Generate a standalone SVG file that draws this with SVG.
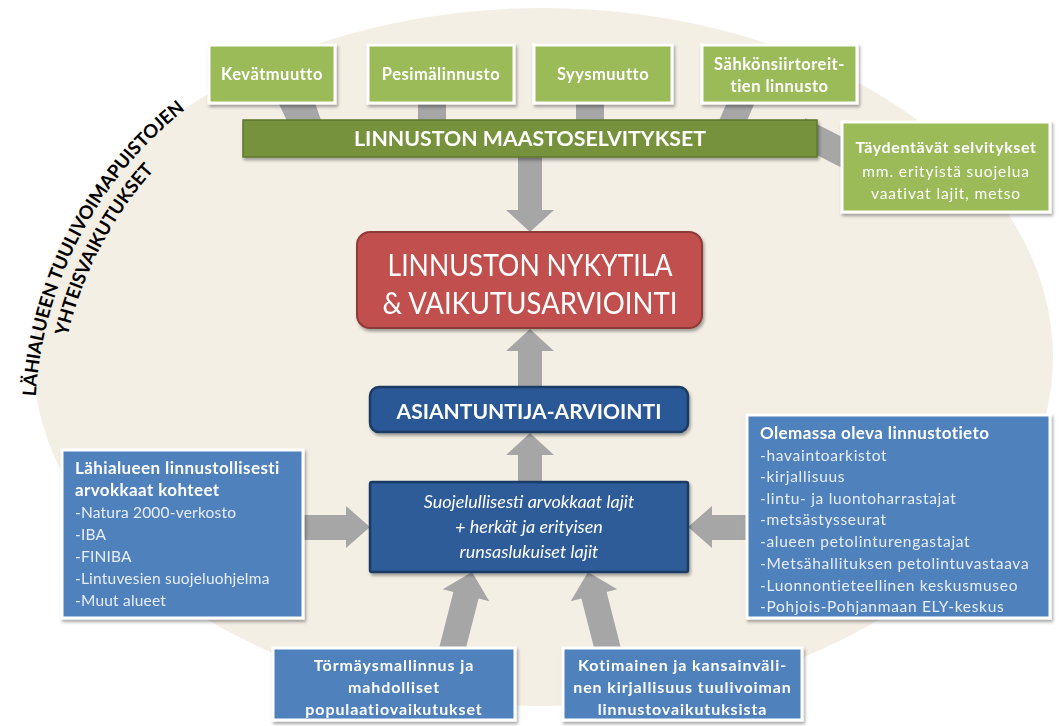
<svg xmlns="http://www.w3.org/2000/svg" width="1059" height="726" viewBox="0 0 1059 726">
<defs>
<filter id="sh" x="-10%" y="-10%" width="130%" height="140%">
<feDropShadow dx="1.5" dy="2.5" stdDeviation="1.5" flood-color="#000" flood-opacity="0.35"/>
</filter>
<path id="arc1" d="M 36 447.6 A 396 396 0 0 1 239 73.7"/>
<path id="arc2" d="M 58.9 446 A 373 373 0 0 1 250.2 93.8"/>
</defs>
<style>
text{font-family:Lato,"Open Sans","Liberation Sans",sans-serif;fill:#fff}
.green{fill:#9bbb59;stroke:#fff;stroke-width:3}
.lblue{fill:#4f81bd;stroke:#fff;stroke-width:3}
.conn{fill:#a6a6a6}
.tb{font-size:16.5px;font-weight:700;text-anchor:middle;letter-spacing:0.5px}
.bb{font-size:16px;font-weight:700;text-anchor:middle;letter-spacing:0.9px}
.hd{font-size:17px;font-weight:700;letter-spacing:0.4px}
.it{font-size:15.5px;fill:#e8eef7;letter-spacing:0.2px}
.it2{font-size:15.5px;fill:#e8eef7;letter-spacing:0.7px}
.curve{font-size:18.5px;font-weight:700;fill:#000}
</style>
<rect width="1059" height="726" fill="#fff"/>
<ellipse cx="543" cy="357" rx="510" ry="349" fill="#f3efe5"/>
<g id="title">
<text class="curve"><textPath href="#arc1" startOffset="48.5%" text-anchor="middle">LÄHIALUEEN TUULIVOIMAPUISTOJEN</textPath></text>
<text class="curve"><textPath href="#arc2" startOffset="48.5%" text-anchor="middle">YHTEISVAIKUTUKSET</textPath></text>
</g>
<g id="connectors">
<polygon class="conn" points="277,100 314,100 322,123 288,123"/>
<rect class="conn" x="418" y="100" width="28" height="24"/>
<rect class="conn" x="576" y="100" width="28" height="24"/>
<polygon class="conn" points="728,100 756,100 746,123 718,123"/>
<polygon class="conn" points="805,118 850,141 850,172 805,149"/>
<polygon class="conn" points="518,150 542,150 542,210 554,210 530,232 506,210 518,210"/>
<polygon class="conn" points="518,392 542,392 542,351 554,351 530,329 506,351 518,351"/>
<polygon class="conn" points="518,486 542,486 542,455 554,455 530,433 506,455 518,455"/>
<polygon class="conn" points="298,515 346,515 346,506 370,527 346,548 346,540 298,540"/>
<polygon class="conn" points="752,515 712,515 712,506 688,527 712,548 712,540 752,540"/>
<polygon class="conn" points="439.4,646.8 453.4,592 442.8,589.3 472,572 489.3,601.2 478.6,598.5 464.6,653.2"/>
<polygon class="conn" points="595.4,653.2 581.4,598.5 570.7,601.2 588,572 617.2,589.3 606.6,592 620.6,646.8"/>
</g>
<g id="kevatmuutto" filter="url(#sh)">
<rect class="green" x="209" y="45" width="126" height="58"/>
<text class="tb" x="272" y="80">Kevätmuutto</text>
</g>
<g id="pesimalinnusto" filter="url(#sh)">
<rect class="green" x="368" y="45" width="146" height="58"/>
<text class="tb" x="441" y="80">Pesimälinnusto</text>
</g>
<g id="syysmuutto" filter="url(#sh)">
<rect class="green" x="534" y="45" width="138" height="58"/>
<text class="tb" x="603" y="80">Syysmuutto</text>
</g>
<g id="sahkonsiirto" filter="url(#sh)">
<rect class="green" x="702" y="45" width="155" height="58"/>
<text class="tb" x="779.5" y="70">Sähkönsiirtoreit-</text>
<text class="tb" x="779.5" y="92">tien linnusto</text>
</g>
<g id="maastoselvitykset" filter="url(#sh)">
<rect x="243" y="120" width="574" height="37" fill="#76923c" stroke="#5f772f" stroke-width="1.5"/>
<text x="530" y="145.5" font-size="20.5" font-weight="700" text-anchor="middle" textLength="352" lengthAdjust="spacingAndGlyphs">LINNUSTON MAASTOSELVITYKSET</text>
</g>
<g id="taydentavat" filter="url(#sh)">
<rect class="green" x="842" y="122" width="208" height="90"/>
<text x="946" y="153" font-size="16" font-weight="700" text-anchor="middle" letter-spacing="0.6">Täydentävät selvitykset</text>
<text x="946" y="177" font-size="15.5" text-anchor="middle" fill="#eef4e3" letter-spacing="0.9">mm. erityistä suojelua</text>
<text x="946" y="199" font-size="15.5" text-anchor="middle" fill="#eef4e3" letter-spacing="0.9">vaativat lajit, metso</text>
</g>
<g id="nykytila" filter="url(#sh)">
<rect x="357" y="232" width="345" height="96" rx="13" fill="#c0504d" stroke="#8e3b39" stroke-width="2"/>
<text x="530" y="276" font-size="31" text-anchor="middle" textLength="285" lengthAdjust="spacingAndGlyphs">LINNUSTON NYKYTILA</text>
<text x="530" y="313.5" font-size="31" text-anchor="middle" textLength="295" lengthAdjust="spacingAndGlyphs">&amp; VAIKUTUSARVIOINTI</text>
</g>
<g id="asiantuntija" filter="url(#sh)">
<rect x="370" y="387" width="318" height="45" rx="9" fill="#2b5896" stroke="#1d3b63" stroke-width="2.5"/>
<text x="529" y="419" font-size="21" font-weight="700" text-anchor="middle" textLength="265" lengthAdjust="spacingAndGlyphs">ASIANTUNTIJA-ARVIOINTI</text>
</g>
<g id="suojelullisesti" filter="url(#sh)">
<rect x="370" y="482" width="318" height="90" rx="2" fill="#2d5c98" stroke="#1d3b63" stroke-width="2.5"/>
<text x="529" y="507.5" font-size="18" font-style="italic" text-anchor="middle">Suojelullisesti arvokkaat lajit</text>
<text x="529" y="532.5" font-size="18" font-style="italic" text-anchor="middle">+ herkät ja erityisen</text>
<text x="529" y="557.5" font-size="18" font-style="italic" text-anchor="middle">runsaslukuiset lajit</text>
</g>
<g id="lahialueen" filter="url(#sh)">
<rect class="lblue" x="62" y="450" width="241" height="168"/>
<text class="hd" x="75" y="474">Lähialueen linnustollisesti</text>
<text class="hd" x="75" y="496">arvokkaat kohteet</text>
<text class="it" x="75" y="517.5">-Natura 2000-verkosto</text>
<text class="it" x="75" y="539.5">-IBA</text>
<text class="it" x="75" y="561.5">-FINIBA</text>
<text class="it" x="75" y="583.5">-Lintuvesien suojeluohjelma</text>
<text class="it" x="75" y="605.5">-Muut alueet</text>
</g>
<g id="olemassa" filter="url(#sh)">
<rect class="lblue" x="747" y="415" width="303" height="203"/>
<text class="hd" x="760" y="439">Olemassa oleva linnustotieto</text>
<text class="it2" x="760" y="460.5">-havaintoarkistot</text>
<text class="it2" x="760" y="482">-kirjallisuus</text>
<text class="it2" x="760" y="503.5">-lintu- ja luontoharrastajat</text>
<text class="it2" x="760" y="525">-metsästysseurat</text>
<text class="it2" x="760" y="547">-alueen petolinturengastajat</text>
<text class="it2" x="760" y="568.5">-Metsähallituksen petolintuvastaava</text>
<text class="it2" x="760" y="590.5">-Luonnontieteellinen keskusmuseo</text>
<text class="it2" x="760" y="612">-Pohjois-Pohjanmaan ELY-keskus</text>
</g>
<g id="tormays" filter="url(#sh)">
<rect class="lblue" x="273" y="648" width="242" height="72"/>
<text class="bb" x="394" y="671">Törmäysmallinnus ja</text>
<text class="bb" x="394" y="693">mahdolliset</text>
<text class="bb" x="394" y="715">populaatiovaikutukset</text>
</g>
<g id="kotimainen" filter="url(#sh)">
<rect class="lblue" x="563" y="648" width="239" height="72"/>
<text class="bb" x="682.5" y="671">Kotimainen ja kansainväli-</text>
<text class="bb" x="682.5" y="693">nen kirjallisuus tuulivoiman</text>
<text class="bb" x="682.5" y="715">linnustovaikutuksista</text>
</g>
</svg>
